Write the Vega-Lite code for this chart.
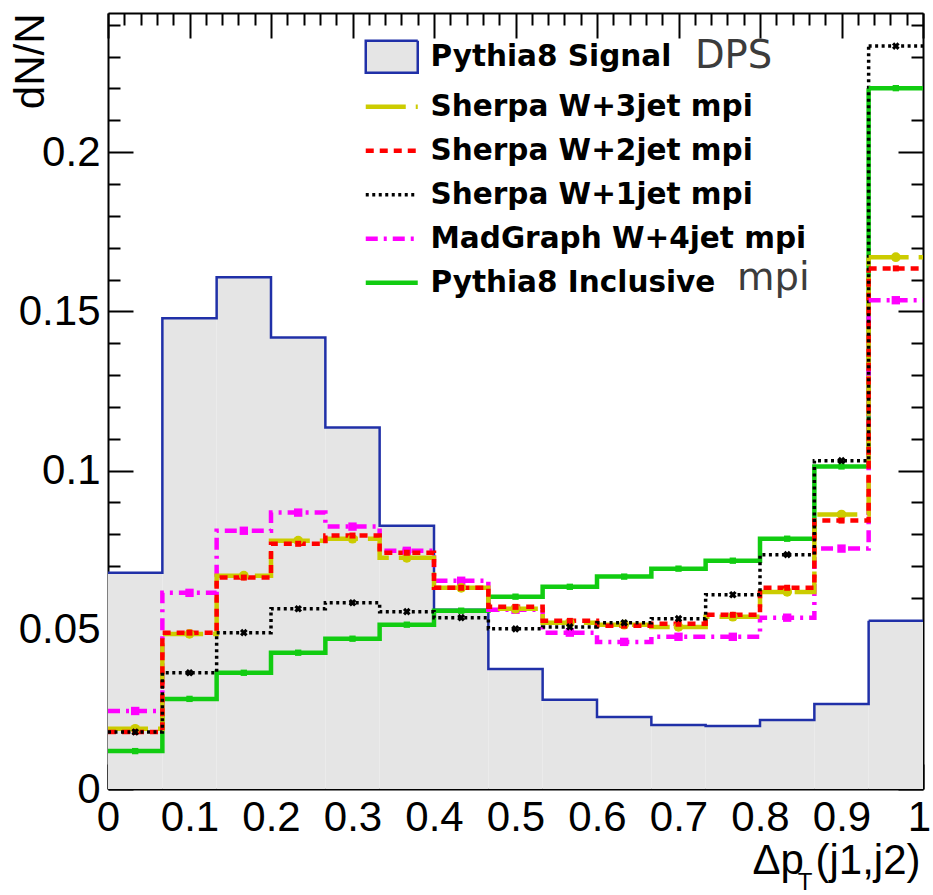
{
  "$schema": "https://vega.github.io/schema/vega-lite/v6.json",
  "width": 815,
  "height": 776,
  "autosize": "none",
  "padding": {"left": 108, "top": 13, "right": 10, "bottom": 106},
  "background": "white",
  "config": {
    "view": {"stroke": null},
    "axis": {
      "zindex": 1,
      "grid": false,
      "domain": true,
      "domainColor": "#000",
      "domainWidth": 2,
      "tickColor": "#000",
      "tickWidth": 2,
      "labelFont": "Liberation Sans",
      "labelFontSize": 42,
      "labelColor": "#000",
      "labelFlush": false,
      "labelOverlap": false,
      "labelBound": false,
      "titleFont": "Liberation Sans",
      "titleFontSize": 42,
      "titleFontWeight": "normal",
      "titleColor": "#000"
    }
  },
  "datasets": {
    "bins": [
      {"lo": 0.0, "hi": 0.0667, "Pythia8 Signal": 0.0679, "Sherpa W+3jet mpi": 0.0189, "Sherpa W+2jet mpi": 0.0179, "Sherpa W+1jet mpi": 0.0179, "MadGraph W+4jet mpi": 0.0245, "Pythia8 Inclusive": 0.0119},
      {"lo": 0.0667, "hi": 0.1333, "Pythia8 Signal": 0.1478, "Sherpa W+3jet mpi": 0.0487, "Sherpa W+2jet mpi": 0.0491, "Sherpa W+1jet mpi": 0.0365, "MadGraph W+4jet mpi": 0.0616, "Pythia8 Inclusive": 0.0283},
      {"lo": 0.1333, "hi": 0.2, "Pythia8 Signal": 0.1607, "Sherpa W+3jet mpi": 0.067, "Sherpa W+2jet mpi": 0.0664, "Sherpa W+1jet mpi": 0.0491, "MadGraph W+4jet mpi": 0.0811, "Pythia8 Inclusive": 0.0365},
      {"lo": 0.2, "hi": 0.2667, "Pythia8 Signal": 0.1418, "Sherpa W+3jet mpi": 0.078, "Sherpa W+2jet mpi": 0.077, "Sherpa W+1jet mpi": 0.0566, "MadGraph W+4jet mpi": 0.0868, "Pythia8 Inclusive": 0.0428},
      {"lo": 0.2667, "hi": 0.3333, "Pythia8 Signal": 0.1135, "Sherpa W+3jet mpi": 0.0786, "Sherpa W+2jet mpi": 0.0796, "Sherpa W+1jet mpi": 0.0585, "MadGraph W+4jet mpi": 0.0824, "Pythia8 Inclusive": 0.0472},
      {"lo": 0.3333, "hi": 0.4, "Pythia8 Signal": 0.0827, "Sherpa W+3jet mpi": 0.0726, "Sherpa W+2jet mpi": 0.0742, "Sherpa W+1jet mpi": 0.0557, "MadGraph W+4jet mpi": 0.0748, "Pythia8 Inclusive": 0.0516},
      {"lo": 0.4, "hi": 0.4667, "Pythia8 Signal": 0.0563, "Sherpa W+3jet mpi": 0.0632, "Sherpa W+2jet mpi": 0.0632, "Sherpa W+1jet mpi": 0.0538, "MadGraph W+4jet mpi": 0.0654, "Pythia8 Inclusive": 0.056},
      {"lo": 0.4667, "hi": 0.5333, "Pythia8 Signal": 0.0377, "Sherpa W+3jet mpi": 0.0566, "Sherpa W+2jet mpi": 0.0572, "Sherpa W+1jet mpi": 0.0503, "MadGraph W+4jet mpi": 0.0563, "Pythia8 Inclusive": 0.0604},
      {"lo": 0.5333, "hi": 0.6, "Pythia8 Signal": 0.028, "Sherpa W+3jet mpi": 0.0522, "Sherpa W+2jet mpi": 0.0528, "Sherpa W+1jet mpi": 0.0509, "MadGraph W+4jet mpi": 0.0491, "Pythia8 Inclusive": 0.0635},
      {"lo": 0.6, "hi": 0.6667, "Pythia8 Signal": 0.0226, "Sherpa W+3jet mpi": 0.0516, "Sherpa W+2jet mpi": 0.0513, "Sherpa W+1jet mpi": 0.0522, "MadGraph W+4jet mpi": 0.0462, "Pythia8 Inclusive": 0.0667},
      {"lo": 0.6667, "hi": 0.7333, "Pythia8 Signal": 0.0201, "Sherpa W+3jet mpi": 0.0509, "Sherpa W+2jet mpi": 0.0519, "Sherpa W+1jet mpi": 0.0535, "MadGraph W+4jet mpi": 0.0478, "Pythia8 Inclusive": 0.0692},
      {"lo": 0.7333, "hi": 0.8, "Pythia8 Signal": 0.0198, "Sherpa W+3jet mpi": 0.0541, "Sherpa W+2jet mpi": 0.0547, "Sherpa W+1jet mpi": 0.061, "MadGraph W+4jet mpi": 0.0478, "Pythia8 Inclusive": 0.0717},
      {"lo": 0.8, "hi": 0.8667, "Pythia8 Signal": 0.0217, "Sherpa W+3jet mpi": 0.0619, "Sherpa W+2jet mpi": 0.0632, "Sherpa W+1jet mpi": 0.0736, "MadGraph W+4jet mpi": 0.0538, "Pythia8 Inclusive": 0.0786},
      {"lo": 0.8667, "hi": 0.9333, "Pythia8 Signal": 0.0267, "Sherpa W+3jet mpi": 0.0862, "Sherpa W+2jet mpi": 0.0843, "Sherpa W+1jet mpi": 0.1031, "MadGraph W+4jet mpi": 0.0755, "Pythia8 Inclusive": 0.1013},
      {"lo": 0.9333, "hi": 1.0, "Pythia8 Signal": 0.0528, "Sherpa W+3jet mpi": 0.167, "Sherpa W+2jet mpi": 0.1635, "Sherpa W+1jet mpi": 0.2333, "MadGraph W+4jet mpi": 0.1535, "Pythia8 Inclusive": 0.2201}
    ],
    "notes": [
      {"label": "DPS"}
    ]
  },
  "resolve": {"axis": {"x": "independent", "y": "independent"}},
  "layer": [
    {
      "data": {"name": "bins"},
      "transform": [
        {"fold": ["Pythia8 Signal"], "as": ["s", "v"]}
      ],
      "mark": {"type": "rect", "fill": "#e5e5e5", "strokeWidth": 0},
      "encoding": {
        "x": {
          "field": "lo", "type": "quantitative",
          "scale": {"domain": [0, 1], "nice": false, "zero": false},
          "axis": {
            "orient": "bottom",
            "values": [0,0.02,0.04,0.06,0.08,0.1,0.12,0.14,0.16,0.18,0.2,0.22,0.24,0.26,0.28,0.3,0.32,0.34,0.36,0.38,0.4,0.42,0.44,0.46,0.48,0.5,0.52,0.54,0.56,0.58,0.6,0.62,0.64,0.66,0.68,0.7,0.72,0.74,0.76,0.78,0.8,0.82,0.84,0.86,0.88,0.9,0.92,0.94,0.96,0.98,1],
            "tickSize": {"condition": {"test": "abs(datum.value*10 - round(datum.value*10)) < 1e-6", "value": -25}, "value": -12},
            "labelExpr": "abs(datum.value*10 - round(datum.value*10)) < 1e-6 ? format(datum.value, '~g') : ''",
            "labelOffset": {"condition": {"test": "datum.value > 0.99", "value": -4}, "value": 0},
            "labelPadding": 33,
            "labelBaseline": "top",
            "title": "Δp  (j1,j2)",
            "titleAnchor": "end",
            "titleX": 812,
            "titleY": 84,
            "titleAlign": "right",
            "titleBaseline": "alphabetic"
          }
        },
        "x2": {"field": "hi"},
        "y": {
          "field": "v", "type": "quantitative",
          "scale": {"domain": [0, 0.2437], "nice": false},
          "axis": {
            "orient": "left",
            "values": [0,0.01,0.02,0.03,0.04,0.05,0.06,0.07,0.08,0.09,0.1,0.11,0.12,0.13,0.14,0.15,0.16,0.17,0.18,0.19,0.2,0.21,0.22,0.23,0.24],
            "tickSize": {"condition": {"test": "abs(datum.value*20 - round(datum.value*20)) < 1e-6", "value": -25}, "value": -12},
            "labelExpr": "abs(datum.value*20 - round(datum.value*20)) < 1e-6 ? format(datum.value, '~g') : ''",
            "labelPadding": 33,
            "title": "dN/N",
            "titleX": -65,
            "titleY": 0,
            "titleAngle": -90,
            "titleAlign": "right",
            "titleBaseline": "alphabetic"
          }
        },
        "y2": {"datum": 0}
      }
    },
    {
      "data": {"name": "bins"},
      "transform": [
        {"fold": ["Pythia8 Signal", "Pythia8 Inclusive", "MadGraph W+4jet mpi", "Sherpa W+3jet mpi", "Sherpa W+2jet mpi", "Sherpa W+1jet mpi"], "as": ["s", "v"]}
      ],
      "mark": {"type": "line", "interpolate": "step-after"},
      "encoding": {
        "x": {
          "field": "lo", "type": "quantitative",
          "axis": {
            "orient": "top",
            "values": [0,0.02,0.04,0.06,0.08,0.1,0.12,0.14,0.16,0.18,0.2,0.22,0.24,0.26,0.28,0.3,0.32,0.34,0.36,0.38,0.4,0.42,0.44,0.46,0.48,0.5,0.52,0.54,0.56,0.58,0.6,0.62,0.64,0.66,0.68,0.7,0.72,0.74,0.76,0.78,0.8,0.82,0.84,0.86,0.88,0.9,0.92,0.94,0.96,0.98,1],
            "tickSize": {"condition": {"test": "abs(datum.value*10 - round(datum.value*10)) < 1e-6", "value": -25}, "value": -12},
            "labels": false,
            "title": null
          }
        },
        "y": {
          "field": "v", "type": "quantitative",
          "axis": {
            "orient": "right",
            "values": [0,0.01,0.02,0.03,0.04,0.05,0.06,0.07,0.08,0.09,0.1,0.11,0.12,0.13,0.14,0.15,0.16,0.17,0.18,0.19,0.2,0.21,0.22,0.23,0.24],
            "tickSize": {"condition": {"test": "abs(datum.value*20 - round(datum.value*20)) < 1e-6", "value": -25}, "value": -12},
            "labels": false,
            "title": null
          }
        },
        "stroke": {
          "field": "s", "type": "nominal",
          "scale": {
            "domain": ["Pythia8 Signal", "Sherpa W+3jet mpi", "Sherpa W+2jet mpi", "Sherpa W+1jet mpi", "MadGraph W+4jet mpi", "Pythia8 Inclusive"],
            "range": ["#2030a8", "#cccc00", "#ff0000", "#000000", "#ff00ff", "#11cc11"]
          },
          "legend": {
            "orient": "none",
            "legendX": 269,
            "legendY": 29,
            "title": null,
            "padding": 0,
            "symbolType": "stroke",
            "symbolSize": 2704,
            "symbolStrokeWidth": 4,
            "labelFont": "DejaVu Sans",
            "labelFontWeight": "bold",
            "labelFontSize": 29.5,
            "labelColor": "#000",
            "labelOffset": 24,
            "labelLimit": 0,
            "rowPadding": 13,
            "encode": {
              "symbols": {
                "update": {
                  "shape": {"signal": "datum.value === 'Pythia8 Signal' ? 'M-1,-0.62H1V0.62H-1Z' : 'stroke'"},
                  "fill": {"signal": "datum.value === 'Pythia8 Signal' ? '#e5e5e5' : 'transparent'"},
                  "strokeWidth": {"signal": "datum.value === 'Pythia8 Signal' ? 2.5 : datum.value === 'Sherpa W+1jet mpi' ? 3.5 : 4.5"},
                  "strokeDash": {"signal": "datum.value === 'Sherpa W+3jet mpi' ? [40,10] : datum.value === 'Sherpa W+2jet mpi' ? [8,6] : datum.value === 'Sherpa W+1jet mpi' ? [3,3.5] : datum.value === 'MadGraph W+4jet mpi' ? [12,6,3,6] : [1,0]"}
                }
              }
            }
          }
        },
        "strokeDash": {
          "field": "s", "type": "nominal",
          "scale": {
            "domain": ["Pythia8 Signal", "Sherpa W+3jet mpi", "Sherpa W+2jet mpi", "Sherpa W+1jet mpi", "MadGraph W+4jet mpi", "Pythia8 Inclusive"],
            "range": [[1,0], [40,10], [8,6], [3,3.5], [12,6,3,6], [1,0]]
          },
          "legend": null
        },
        "strokeWidth": {
          "condition": [
            {"test": "datum.s === 'Pythia8 Signal'", "value": 2.5},
            {"test": "datum.s === 'Sherpa W+1jet mpi'", "value": 3.5}
          ],
          "value": 4.5
        }
      }
    },
    {
      "data": {"name": "bins"},
      "transform": [
        {"filter": "datum.lo > 0.9"},
        {"fold": ["Pythia8 Signal", "Pythia8 Inclusive", "MadGraph W+4jet mpi", "Sherpa W+3jet mpi", "Sherpa W+2jet mpi", "Sherpa W+1jet mpi"], "as": ["s", "v"]}
      ],
      "mark": {"type": "rule"},
      "encoding": {
        "x": {"field": "lo", "type": "quantitative", "axis": null},
        "x2": {"field": "hi"},
        "y": {"field": "v", "type": "quantitative", "axis": null},
        "stroke": {"field": "s", "type": "nominal", "legend": null},
        "strokeDash": {"field": "s", "type": "nominal", "legend": null},
        "strokeWidth": {
          "condition": [
            {"test": "datum.s === 'Pythia8 Signal'", "value": 2.5},
            {"test": "datum.s === 'Sherpa W+1jet mpi'", "value": 3.5}
          ],
          "value": 4.5
        }
      }
    },
    {
      "data": {"name": "bins"},
      "transform": [{"calculate": "(datum.lo + datum.hi) / 2", "as": "mid"}],
      "mark": {"type": "square", "filled": true, "color": "#11cc11", "size": 40, "opacity": 1},
      "encoding": {
        "x": {"field": "mid", "type": "quantitative", "axis": null},
        "y": {"field": "Pythia8 Inclusive", "type": "quantitative", "axis": null}
      }
    },
    {
      "data": {"name": "bins"},
      "transform": [{"calculate": "(datum.lo + datum.hi) / 2", "as": "mid"}],
      "mark": {"type": "square", "filled": true, "color": "#ff00ff", "size": 70, "opacity": 1},
      "encoding": {
        "x": {"field": "mid", "type": "quantitative", "axis": null},
        "y": {"field": "MadGraph W+4jet mpi", "type": "quantitative", "axis": null}
      }
    },
    {
      "data": {"name": "bins"},
      "transform": [{"calculate": "(datum.lo + datum.hi) / 2", "as": "mid"}],
      "mark": {"type": "circle", "filled": true, "color": "#cccc00", "size": 95, "opacity": 1},
      "encoding": {
        "x": {"field": "mid", "type": "quantitative", "axis": null},
        "y": {"field": "Sherpa W+3jet mpi", "type": "quantitative", "axis": null}
      }
    },
    {
      "data": {"name": "bins"},
      "transform": [{"calculate": "(datum.lo + datum.hi) / 2", "as": "mid"}],
      "mark": {"type": "square", "filled": true, "color": "#ff0000", "size": 36, "opacity": 1},
      "encoding": {
        "x": {"field": "mid", "type": "quantitative", "axis": null},
        "y": {"field": "Sherpa W+2jet mpi", "type": "quantitative", "axis": null}
      }
    },
    {
      "data": {"name": "bins"},
      "transform": [{"calculate": "(datum.lo + datum.hi) / 2", "as": "mid"}],
      "mark": {"type": "point", "shape": "cross", "angle": 45, "filled": true, "color": "#000000", "size": 60, "opacity": 1},
      "encoding": {
        "x": {"field": "mid", "type": "quantitative", "axis": null},
        "y": {"field": "Sherpa W+1jet mpi", "type": "quantitative", "axis": null}
      }
    },
    {
      "data": {"name": "notes"},
      "mark": {"type": "text", "text": "DPS", "font": "DejaVu Sans", "fontSize": 38.5, "fill": "#3c3c3c", "align": "left", "baseline": "alphabetic"},
      "encoding": {
        "x": {"datum": 0.7202, "type": "quantitative", "axis": null},
        "y": {"datum": 0.2264, "type": "quantitative", "axis": null}
      }
    },
    {
      "data": {"name": "notes"},
      "mark": {"type": "text", "text": "mpi", "font": "DejaVu Sans", "fontSize": 38.5, "fill": "#3c3c3c", "align": "left", "baseline": "alphabetic"},
      "encoding": {
        "x": {"datum": 0.7718, "type": "quantitative", "axis": null},
        "y": {"datum": 0.1566, "type": "quantitative", "axis": null}
      }
    },
    {
      "data": {"name": "notes"},
      "mark": {"type": "text", "text": "T", "font": "Liberation Sans", "fontSize": 24, "fill": "#000", "align": "center", "baseline": "alphabetic"},
      "encoding": {
        "x": {"datum": 0.8552, "type": "quantitative", "axis": null},
        "y": {"datum": -0.0318, "type": "quantitative", "axis": null}
      }
    }
  ]
}
